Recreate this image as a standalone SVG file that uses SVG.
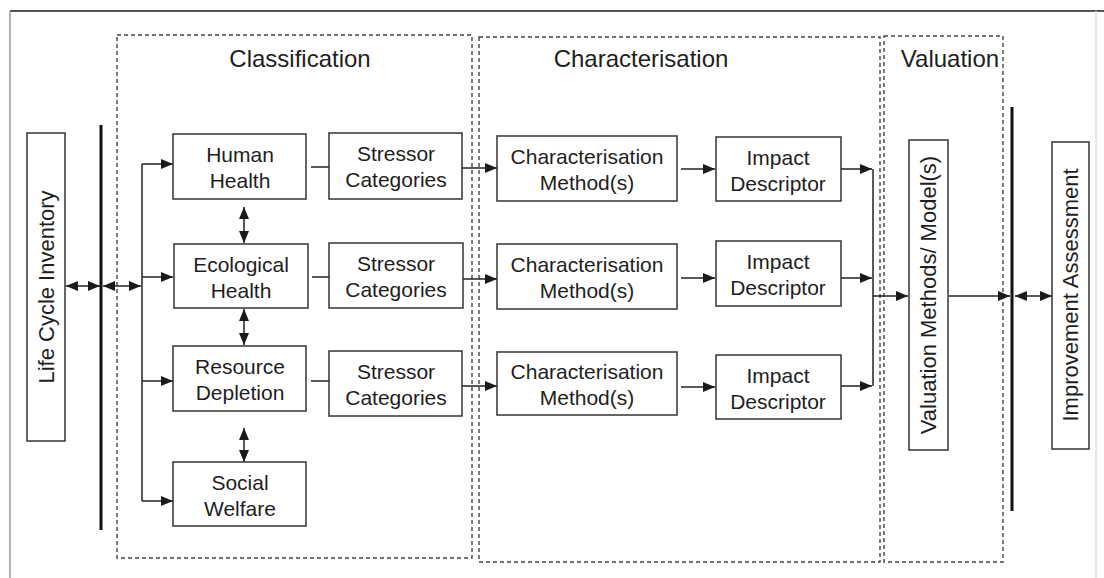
<svg xmlns="http://www.w3.org/2000/svg" width="1104" height="578" viewBox="0 0 1104 578">
  <style>
    .box { fill: #ffffff; stroke: #333333; stroke-width: 1.5; }
    .lbl { font-family: "Liberation Sans", Arial, sans-serif; font-size: 21px; fill: #1e1e1e; text-anchor: middle; dominant-baseline: central; }
    .vlbl { font-family: "Liberation Sans", Arial, sans-serif; font-size: 22px; fill: #1e1e1e; text-anchor: middle; dominant-baseline: central; }
    .title { font-family: "Liberation Sans", Arial, sans-serif; font-size: 24px; fill: #1e1e1e; text-anchor: middle; }
    .phase { fill: none; stroke: #444444; stroke-width: 1.4; stroke-dasharray: 4 3; }
    .bar { stroke: #111111; stroke-width: 3; }
    .wire { fill: none; stroke: #222222; stroke-width: 1.5; }
    .arr { fill: none; stroke: #222222; stroke-width: 1.5; marker-end: url(#head); }
    .dbl { fill: none; stroke: #222222; stroke-width: 1.5; marker-start: url(#head); marker-end: url(#head); }
  </style>
  <defs>
    <marker id="head" viewBox="0 0 12 10" refX="12" refY="5" markerWidth="12" markerHeight="10" markerUnits="userSpaceOnUse" orient="auto-start-reverse">
      <path d="M0,0 L12,5 L0,10 Z" fill="#1a1a1a"/>
    </marker>
  </defs>

  <rect width="1104" height="578" fill="#ffffff"/>

  <!-- outer frame -->
  <g id="frame">
    <line x1="10" y1="11" x2="1104" y2="11" stroke="#555555" stroke-width="2"/>
    <line x1="10" y1="11" x2="10" y2="578" stroke="#9a9a9a" stroke-width="1.5"/>
    <line x1="1096" y1="11" x2="1096" y2="578" stroke="#e2e2e2" stroke-width="1.5"/>
  </g>

  <!-- phase regions -->
  <g id="phase-classification">
    <rect class="phase" x="117" y="35" width="355" height="523"/>
    <text class="title" x="300" y="67">Classification</text>
  </g>
  <g id="phase-characterisation">
    <rect class="phase" x="479" y="37" width="401" height="525"/>
    <text class="title" x="641" y="67">Characterisation</text>
  </g>
  <g id="phase-valuation">
    <rect class="phase" x="884" y="36" width="119" height="526"/>
    <text class="title" x="950" y="67">Valuation</text>
  </g>

  <!-- connectors -->
  <g id="connectors">
    <!-- separator bars -->
    <line class="bar" x1="101" y1="125" x2="101" y2="530"/>
    <line class="bar" x1="1012" y1="107" x2="1012" y2="511"/>

    <!-- inventory exchange -->
    <line class="dbl" x1="66" y1="286" x2="100" y2="286"/>
    <line class="dbl" x1="103" y1="286" x2="141" y2="286"/>

    <!-- branch to impact categories -->
    <line class="wire" x1="142" y1="164" x2="142" y2="501"/>
    <line class="arr" x1="142" y1="164" x2="173" y2="164"/>
    <line class="arr" x1="142" y1="277" x2="173" y2="277"/>
    <line class="arr" x1="142" y1="381" x2="173" y2="381"/>
    <line class="arr" x1="142" y1="501" x2="173" y2="501"/>

    <!-- links between categories -->
    <line class="dbl" x1="244" y1="207" x2="244" y2="243"/>
    <line class="dbl" x1="244" y1="309" x2="244" y2="345"/>
    <line class="dbl" x1="244" y1="428" x2="244" y2="462"/>

    <!-- category to stressor -->
    <line class="wire" x1="311" y1="167" x2="329" y2="167"/>
    <line class="wire" x1="312" y1="277" x2="329" y2="277"/>
    <line class="wire" x1="311" y1="381" x2="329" y2="381"/>

    <!-- stressor to characterisation -->
    <line class="arr" x1="462" y1="168" x2="497" y2="168"/>
    <line class="arr" x1="463" y1="279" x2="497" y2="279"/>
    <line class="arr" x1="462" y1="386" x2="497" y2="386"/>

    <!-- characterisation to descriptor -->
    <line class="arr" x1="681" y1="169" x2="715" y2="169"/>
    <line class="arr" x1="681" y1="278" x2="715" y2="278"/>
    <line class="arr" x1="681" y1="387" x2="715" y2="387"/>

    <!-- descriptors to valuation -->
    <line class="arr" x1="841" y1="169" x2="872" y2="169"/>
    <line class="arr" x1="841" y1="278" x2="872" y2="278"/>
    <line class="arr" x1="841" y1="386" x2="872" y2="386"/>
    <line class="wire" x1="873" y1="169" x2="873" y2="386"/>
    <line class="arr" x1="873" y1="296" x2="908" y2="296"/>

    <!-- valuation to improvement -->
    <line class="arr" x1="949" y1="296" x2="1010" y2="296"/>
    <line class="dbl" x1="1015" y1="296" x2="1052" y2="296"/>
  </g>

  <!-- nodes -->
  <g id="life-cycle-inventory">
    <rect class="box" x="27" y="133" width="38" height="308"/>
    <text class="vlbl" transform="translate(46,287) rotate(-90)">Life Cycle Inventory</text>
  </g>

  <g id="human-health">
    <rect class="box" x="173" y="134" width="133" height="65"/>
    <text class="lbl" x="240" y="154">Human</text>
    <text class="lbl" x="240" y="180">Health</text>
  </g>
  <g id="ecological-health">
    <rect class="box" x="174" y="244" width="134" height="64"/>
    <text class="lbl" x="241" y="264">Ecological</text>
    <text class="lbl" x="241" y="290">Health</text>
  </g>
  <g id="resource-depletion">
    <rect class="box" x="173" y="346" width="133" height="65"/>
    <text class="lbl" x="240" y="366">Resource</text>
    <text class="lbl" x="240" y="392">Depletion</text>
  </g>
  <g id="social-welfare">
    <rect class="box" x="173" y="462" width="133" height="64"/>
    <text class="lbl" x="240" y="482">Social</text>
    <text class="lbl" x="240" y="508">Welfare</text>
  </g>

  <g id="stressor-1">
    <rect class="box" x="329" y="133" width="133" height="66"/>
    <text class="lbl" x="396" y="153">Stressor</text>
    <text class="lbl" x="396" y="179">Categories</text>
  </g>
  <g id="stressor-2">
    <rect class="box" x="329" y="243" width="134" height="65"/>
    <text class="lbl" x="396" y="263">Stressor</text>
    <text class="lbl" x="396" y="289">Categories</text>
  </g>
  <g id="stressor-3">
    <rect class="box" x="329" y="351" width="133" height="65"/>
    <text class="lbl" x="396" y="371">Stressor</text>
    <text class="lbl" x="396" y="397">Categories</text>
  </g>

  <g id="method-1">
    <rect class="box" x="497" y="136" width="180" height="65"/>
    <text class="lbl" x="587" y="156">Characterisation</text>
    <text class="lbl" x="587" y="182">Method(s)</text>
  </g>
  <g id="method-2">
    <rect class="box" x="497" y="244" width="180" height="65"/>
    <text class="lbl" x="587" y="264">Characterisation</text>
    <text class="lbl" x="587" y="290">Method(s)</text>
  </g>
  <g id="method-3">
    <rect class="box" x="497" y="352" width="180" height="63"/>
    <text class="lbl" x="587" y="371">Characterisation</text>
    <text class="lbl" x="587" y="397">Method(s)</text>
  </g>

  <g id="descriptor-1">
    <rect class="box" x="716" y="137" width="125" height="64"/>
    <text class="lbl" x="778" y="157">Impact</text>
    <text class="lbl" x="778" y="183">Descriptor</text>
  </g>
  <g id="descriptor-2">
    <rect class="box" x="716" y="241" width="125" height="65"/>
    <text class="lbl" x="778" y="261">Impact</text>
    <text class="lbl" x="778" y="287">Descriptor</text>
  </g>
  <g id="descriptor-3">
    <rect class="box" x="716" y="355" width="125" height="64"/>
    <text class="lbl" x="778" y="375">Impact</text>
    <text class="lbl" x="778" y="401">Descriptor</text>
  </g>

  <g id="valuation-methods">
    <rect class="box" x="909" y="140" width="39" height="310"/>
    <text class="vlbl" transform="translate(928.5,295) rotate(-90)">Valuation Methods/ Model(s)</text>
  </g>

  <g id="improvement-assessment">
    <rect class="box" x="1052" y="142" width="37" height="307"/>
    <text class="vlbl" transform="translate(1070.5,295) rotate(-90)">Improvement Assessment</text>
  </g>
</svg>
